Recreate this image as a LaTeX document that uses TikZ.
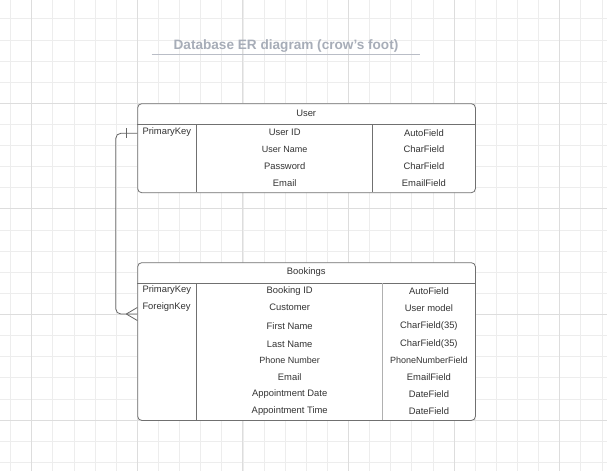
\documentclass[tikz,border=0pt]{standalone}
\usepackage{fontspec}
\setmainfont{Liberation Sans}
\usepackage{tikz}

\definecolor{gridminor}{HTML}{EDEDED}
\definecolor{gridmajor}{HTML}{DDDDDD}
\definecolor{titlegray}{HTML}{A7ADB8}
\definecolor{linegray}{HTML}{707070}
\definecolor{textgray}{HTML}{333333}

\begin{document}
\begin{tikzpicture}[x=1pt,y=-1pt]
          \tikzstyle{minor} = [draw=gridminor, line width=0.8pt]
          \tikzstyle{major} = [draw=gridmajor, line width=1pt]
          \tikzstyle{table} = [draw=linegray, fill=white, rounded corners=4pt, line width=0.8pt, inner sep=0pt, anchor=north west]
          \tikzstyle{cell} = [font=\fontsize{9.4}{11}\selectfont, text=textgray, inner sep=0pt]
          \tikzstyle{sep} = [draw=linegray, line width=0.8pt]
          \tikzstyle{link} = [draw=linegray!90!black, line width=0.8pt, rounded corners=5pt]
        \useasboundingbox (0,0) rectangle (607,471);
        \fill[white] (0,0) rectangle (607,471);
        % grid
        \foreach \i in {0,...,28} \draw[minor] (10.6+21.12*\i,0) -- (10.6+21.12*\i,471);
        \foreach \i in {0,...,21} \draw[minor] (0,18.8+21.12*\i) -- (607,18.8+21.12*\i);
        \foreach \i in {0,...,5} \draw[major] (31.7+105.6*\i,0) -- (31.7+105.6*\i,471);
        \foreach \i in {0,...,3} \draw[major] (0,103.3+105.6*\i) -- (607,103.3+105.6*\i);
        % title
        \node[font=\fontsize{13.6}{16}\selectfont\bfseries, text=titlegray, inner sep=0pt] (title) at (286,45.6) {Database ER diagram (crow's foot)};
        \draw[titlegray!80, line width=1.5pt] (151.7,54.3) -- (420,54.3);
        % User
        \node[table, minimum width=337.7pt, minimum height=89pt] (user) at (137.3,103.3) {};
        \draw[sep] (137.3,124.3) -- (475,124.3);
        \draw[sep] (196.7,124.3) -- (196.7,192.3);
        \draw[sep] (372.7,124.3) -- (372.7,192.3);
        \node[cell] (user head) at (306.2,113.5) {User};
        \node[cell, anchor=west] (user pk) at (142.3,132.4) {PrimaryKey};
        \foreach \y/\name/\type/\size [count=\i] in {132.7/User ID/AutoField/9.4, 149/User Name/CharField/9.0, 166/Password/CharField/9.4, 182.7/Email/EmailField/9.4}
          {
            \node[cell, font=\fontsize{\size}{11}\selectfont] (user field \i) at (284.7,\y) {\name};
            \node[cell] (user type \i) at (423.9,\y) {\type};
          }
        % Bookings
        \node[table, minimum width=337.7pt, minimum height=157.7pt] (bookings) at (137.3,262.3) {};
        \draw[sep] (137.3,283.3) -- (475,283.3);
        \draw[sep] (196.7,283.3) -- (196.7,420);
        \draw[sep, draw=linegray!55, line width=1.4pt] (382.7,283.3) -- (382.7,420);
        \node[cell] (bookings head) at (306.2,271.7) {Bookings};
        \node[cell, anchor=west] (bookings pk) at (142.3,290.4) {PrimaryKey};
        \node[cell, anchor=west] (bookings fk) at (142.3,307.4) {ForeignKey};
        \foreach \y/\name/\type/\size [count=\i] in {290.7/Booking ID/AutoField/9.4, 307.7/Customer/User model/9.4, 326/First Name/CharField(35)/9.4, 344/Last Name/CharField(35)/9.4, 360.3/Phone Number/PhoneNumberField/9.0, 377/Email/EmailField/9.4, 393.7/Appointment Date/DateField/9.4, 410.7/Appointment Time/DateField/9.4}
          {
            \node[cell, font=\fontsize{\size}{11}\selectfont] (bookings field \i) at (289.7,\y) {\name};
            \node[cell, font=\fontsize{\size}{11}\selectfont] (bookings type \i) at (428.9,\y) {\type};
          }
        % relation
        \coordinate (pk) at (137.3,133.3);
        \coordinate (fk) at (137.3,314);
        \coordinate (bend) at (115.8,0);
        \begin{scope}
          \draw[link] (pk) -| (bend |- fk) -- (fk);
          \draw[link] ([xshift=-10.6pt]pk) ++(0,-5) -- ++(0,10);
          \draw[link, rounded corners=0pt] ([xshift=-11pt]fk) -- ++(11,-6.5) ([xshift=-11pt]fk) -- ++(11,6.5);
        \end{scope}
      \end{tikzpicture}
\end{document}
